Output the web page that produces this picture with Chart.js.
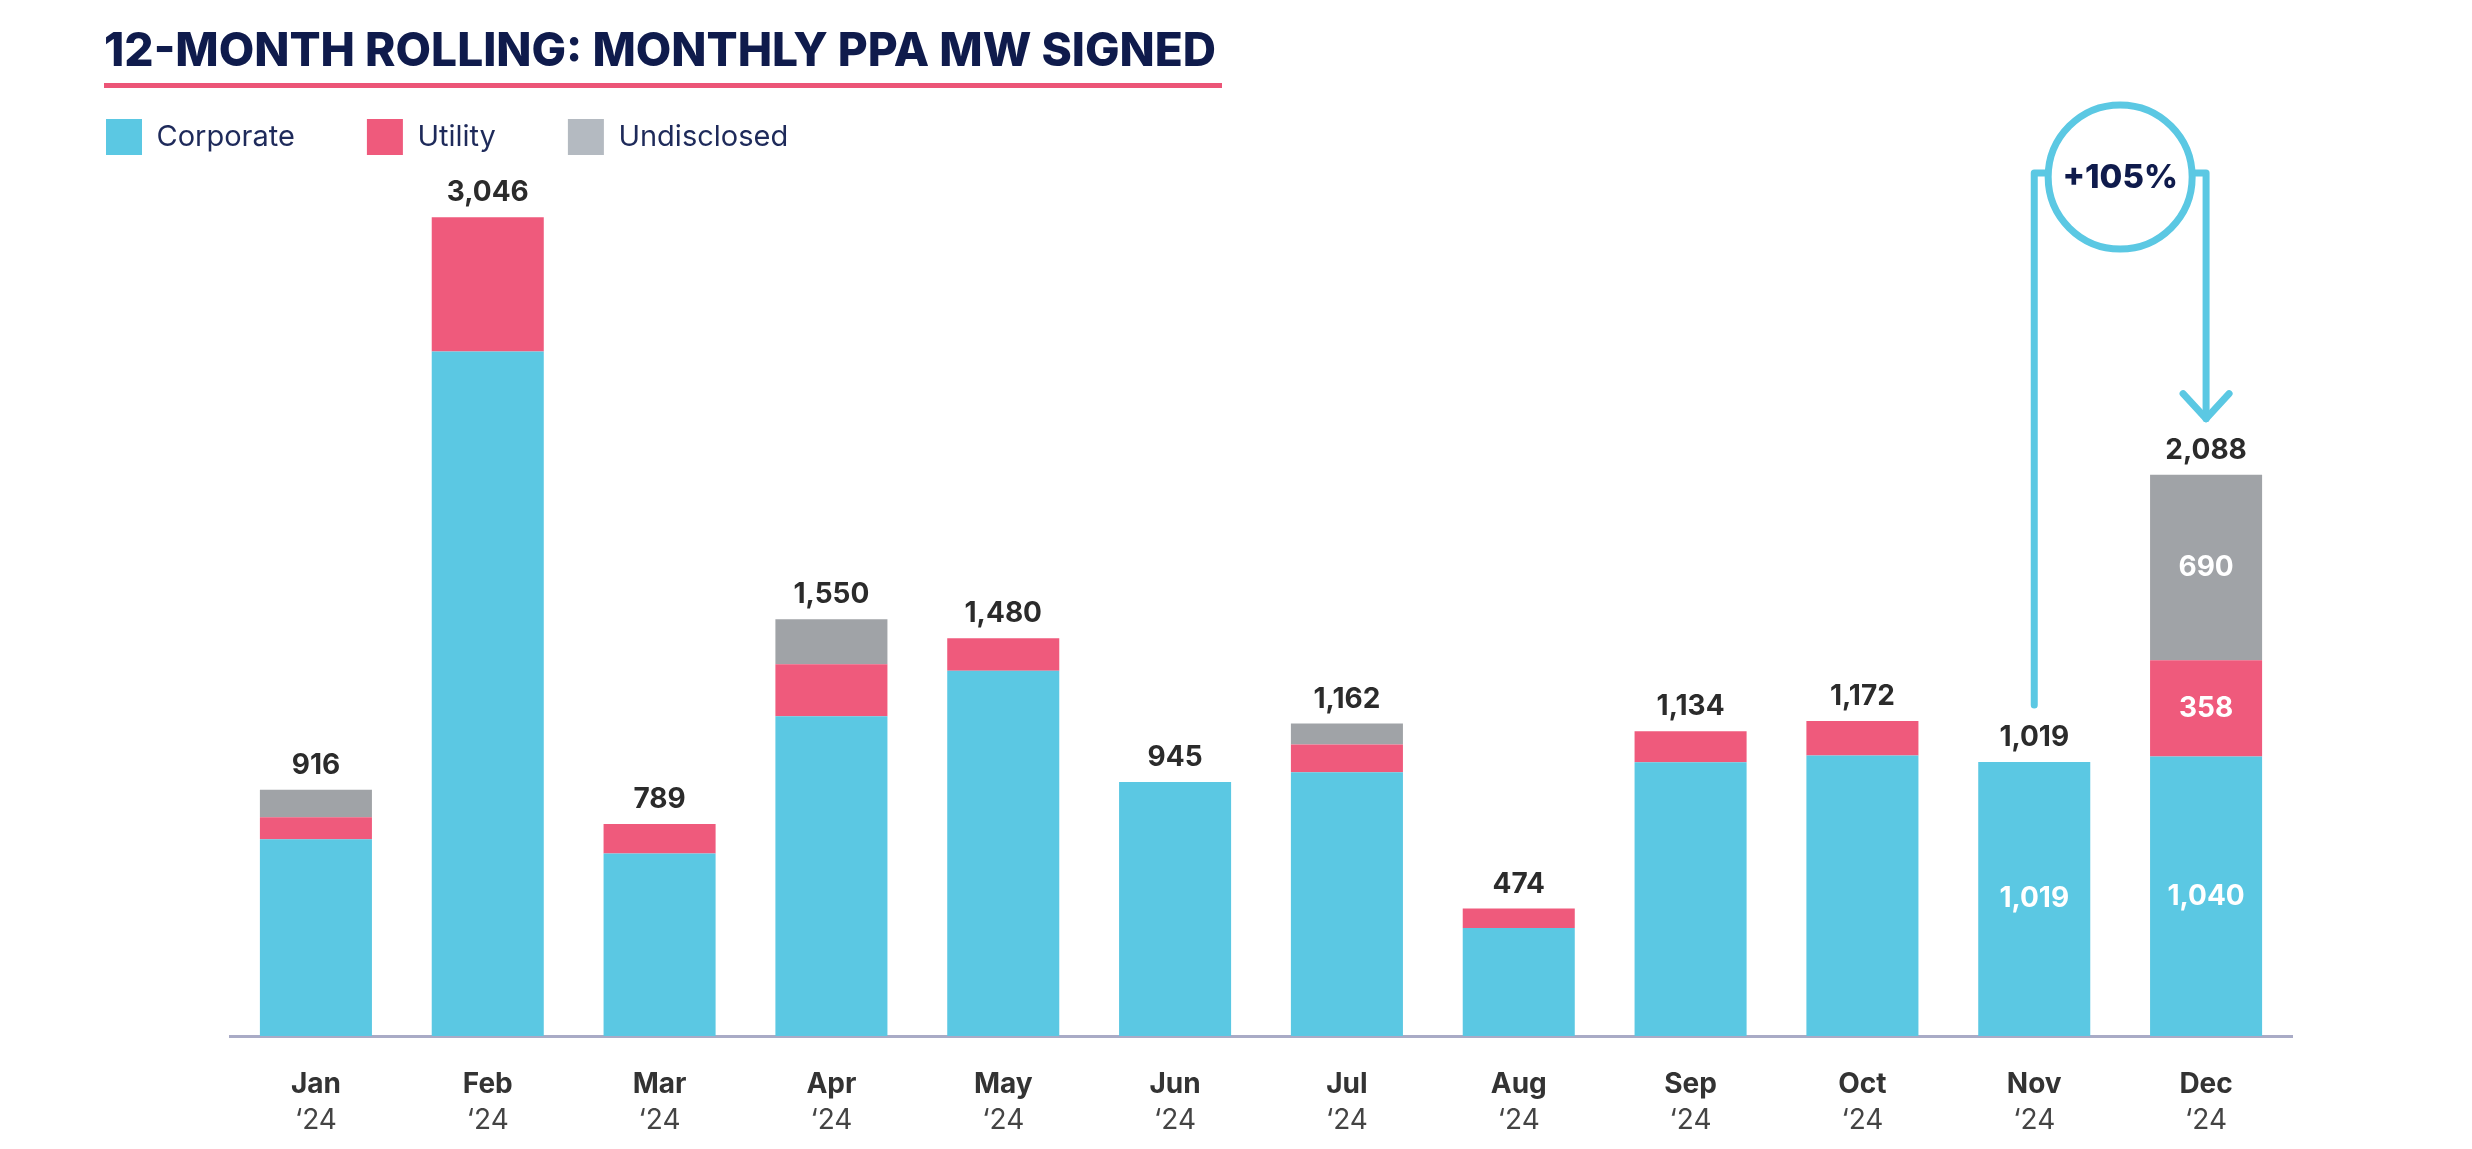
<!DOCTYPE html>
<html lang="en">
<head>
    <meta charset="UTF-8">
    <title>12-Month Rolling: Monthly PPA MW Signed</title>
    <script src="https://cdn.jsdelivr.net/npm/chart.js@4.4.1/dist/chart.umd.min.js"></script>
    <style>
        html, body { margin: 0; padding: 0; background: #fff; }
        .wrap { position: relative; width: 2472px; height: 1149px; }
        #chart_ppa { position: absolute; left: 0; top: 0; }
        .chart-title {
            position: absolute; left: 104px; top: 26px; margin: 0;
            display: inline-block;
            font: 800 46px/46px Inter, "DejaVu Sans", sans-serif;
            color: #0f1b4c;
            padding: 0 6px 11px 0;
            border-bottom: 5px solid #ec5577;
        }
    </style>
</head>
<body>
<div class="wrap">
    <canvas id="chart_ppa" width="2472" height="1149" role="img"
            aria-label="12-month rolling monthly PPA MW signed"></canvas>
    <h1 class="chart-title">12-MONTH ROLLING: MONTHLY PPA MW SIGNED</h1>
</div>

<script>
    const months = ['Jan', 'Feb', 'Mar', 'Apr', 'May', 'Jun', 'Jul', 'Aug', 'Sep', 'Oct', 'Nov', 'Dec'];
    const years = ['\u201824', '\u201824', '\u201824', '\u201824', '\u201824', '\u201824',
                   '\u201824', '\u201824', '\u201824', '\u201824', '\u201824', '\u201824'];

    // MW per month, split by buyer type (splits estimated from the bar segments)
    const corporate   = [732, 2546, 679, 1189, 1359, 945, 981, 402, 1018, 1043, 1019, 1040];
    const utility     = [82,  500,  110, 194,  121,  0,   103, 72,  116,  129,  0,    358];
    const undisclosed = [102, 0,    0,   167,  0,    0,   78,  0,   0,    0,    0,    690];
    const totals      = [916, 3046, 789, 1550, 1480, 945, 1162, 474, 1134, 1172, 1019, 2088];

    // months whose segments carry their own value inside the bar
    const insideLabelMonths = ['Nov', 'Dec'];

    const colors = {corporate: '#5bc8e3', utility: '#ef5a7c', undisclosed: '#a0a3a7'};
    const legendColors = ['#5bc8e3', '#ef5a7c', '#b4bac1'];

    const FONT = 'Inter, "DejaVu Sans", sans-serif';

    function fmt(v) {
        return v.toLocaleString('en-US');
    }

    const valueLabels = {
        id: 'valueLabels',
        afterDatasetsDraw(chart) {
            const {ctx, scales: {x, y}} = chart;
            ctx.save();
            ctx.textAlign = 'center';

            // totals above each stack
            ctx.font = '700 28px ' + FONT;
            ctx.fillStyle = '#2b2b2b';
            ctx.textBaseline = 'alphabetic';
            totals.forEach((t, i) => {
                ctx.fillText(fmt(t), x.getPixelForValue(i), y.getPixelForValue(t) - 16);
            });

            // values inside segments
            ctx.fillStyle = '#ffffff';
            ctx.textBaseline = 'middle';
            chart.data.datasets.forEach((ds, di) => {
                const meta = chart.getDatasetMeta(di);
                insideLabelMonths.forEach(m => {
                    const i = months.indexOf(m);
                    const v = ds.data[i];
                    if (!v) return;
                    const bar = meta.data[i];
                    ctx.fillText(fmt(v), bar.x, (bar.y + bar.base) / 2);
                });
            });
            ctx.restore();
        }
    };

    // circle with "+x%" and bracket arrow from Nov to Dec
    const growthCallout = {
        id: 'growthCallout',
        afterDatasetsDraw(chart) {
            const {ctx, scales: {x, y}} = chart;
            const iFrom = months.indexOf('Nov');
            const iTo = months.indexOf('Dec');
            const x1 = x.getPixelForValue(iFrom);
            const x2 = x.getPixelForValue(iTo);
            const cx = (x1 + x2) / 2;
            const cy = chart.legend.top + 130;
            const r = 72;
            const topY = cy - 4;
            const y1 = y.getPixelForValue(totals[iFrom]) - 57;
            const y2 = y.getPixelForValue(totals[iTo]) - 56;
            const pct = Math.round((totals[iTo] / totals[iFrom] - 1) * 100);

            ctx.save();
            ctx.strokeStyle = '#5bc8e3';
            ctx.lineWidth = 7;
            ctx.lineCap = 'round';
            ctx.lineJoin = 'round';

            ctx.beginPath();
            ctx.moveTo(x1, y1);
            ctx.lineTo(x1, topY);
            ctx.lineTo(cx - Math.sqrt(r * r - 16), topY);
            ctx.stroke();

            ctx.beginPath();
            ctx.moveTo(cx + Math.sqrt(r * r - 16), topY);
            ctx.lineTo(x2, topY);
            ctx.lineTo(x2, y2);
            ctx.stroke();

            ctx.beginPath();
            ctx.moveTo(x2 - 23, y2 - 25);
            ctx.lineTo(x2, y2);
            ctx.lineTo(x2 + 23, y2 - 25);
            ctx.stroke();

            ctx.beginPath();
            ctx.arc(cx, cy, r, 0, Math.PI * 2);
            ctx.fillStyle = '#ffffff';
            ctx.fill();
            ctx.stroke();

            ctx.fillStyle = '#0f1b4c';
            ctx.font = '800 33px ' + FONT;
            ctx.textAlign = 'center';
            ctx.textBaseline = 'middle';
            ctx.fillText('+' + pct + '%', cx, cy + 1);
            ctx.restore();
        }
    };

    const chart = new Chart(document.getElementById('chart_ppa'), {
        type: 'bar',
        data: {
            labels: months,
            datasets: [
                {label: 'Corporate', data: corporate, backgroundColor: colors.corporate},
                {label: 'Utility', data: utility, backgroundColor: colors.utility},
                {label: 'Undisclosed', data: undisclosed, backgroundColor: colors.undisclosed},
            ]
        },
        options: {
            responsive: false,
            devicePixelRatio: 1,
            animation: false,
            layout: {padding: {top: 47, left: 34, right: 180, bottom: 11}},
            datasets: {
                bar: {categoryPercentage: 1, barPercentage: 0.652, borderWidth: 0, clip: false}
            },
            scales: {
                x: {
                    stacked: true,
                    position: 'bottom',
                    weight: 0,
                    grid: {display: false, drawTicks: false},
                    border: {display: true, color: '#a9abc6', width: 3},
                    ticks: {
                        padding: 32,
                        color: '#333333',
                        font: {family: FONT, size: 28, weight: '700', lineHeight: 1.2}
                    },
                    afterFit(scale) {
                        scale.height = 66;
                    }
                },
                x2: {
                    type: 'category',
                    labels: years,
                    position: 'bottom',
                    weight: 1,
                    grid: {display: false, drawTicks: false},
                    border: {display: false},
                    ticks: {
                        padding: 2,
                        color: '#444444',
                        font: {family: FONT, size: 28, weight: '400', lineHeight: 1.2}
                    },
                    afterFit(scale) {
                        scale.height = 36;
                    }
                },
                y: {
                    stacked: true,
                    min: 0,
                    max: 3240,
                    grid: {display: false},
                    border: {display: false},
                    ticks: {display: false},
                    afterFit(scale) {
                        scale.width = 196;
                    }
                }
            },
            plugins: {
                legend: {
                    position: 'top',
                    align: 'start',
                    maxHeight: 130,
                    labels: {
                        boxWidth: 36,
                        boxHeight: 36,
                        padding: 72,
                        color: '#1e2a5a',
                        font: {family: FONT, size: 29, weight: '400'},
                        generateLabels(c) {
                            const items = Chart.defaults.plugins.legend.labels.generateLabels(c);
                            items.forEach((it, i) => {
                                it.fillStyle = legendColors[i];
                                it.strokeStyle = legendColors[i];
                                it.lineWidth = 0;
                            });
                            return items;
                        }
                    }
                },
                tooltip: {enabled: false},
            },
        },
        plugins: [valueLabels, growthCallout]
    });
</script>
</body>
</html>
